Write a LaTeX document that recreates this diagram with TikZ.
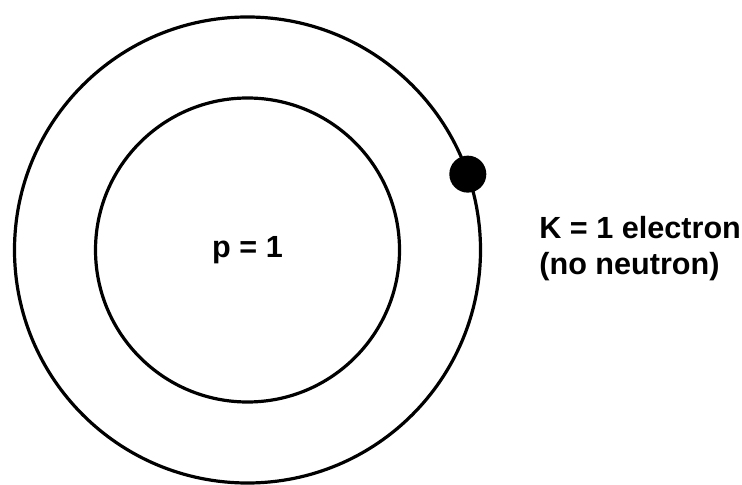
\documentclass[tikz,border=0pt]{standalone}
\usepackage{fontspec}
\setmainfont{Liberation Sans}
\usetikzlibrary{positioning}

\begin{document}
\begin{tikzpicture}[x=0.5pt,y=-0.5pt,
    orbit/.style={draw, line width=1.6pt},
    lbl/.style={font=\fontsize{15.3}{18}\selectfont\bfseries, inner sep=0pt}]
    \useasboundingbox (0,0) rectangle (742,485);
    \coordinate (centre) at (247.5,250);
    % K shell
    \draw[orbit] (centre) circle[radius=116.5pt];
    % nucleus
    \node[orbit, circle, minimum size=152pt, inner sep=0pt, lbl] (nucleus) at (centre) {p = 1};
    \node[circle, fill, minimum size=18.5pt, inner sep=0pt] (electron) at ([shift={(19:116.5pt)}]centre) {};
    \node[lbl, anchor=base west] (klabel) at (539,239) {K = 1 electron};
    \node[lbl, anchor=base west] (nlabel) at (539,275) {(no neutron)};
\end{tikzpicture}
\end{document}
